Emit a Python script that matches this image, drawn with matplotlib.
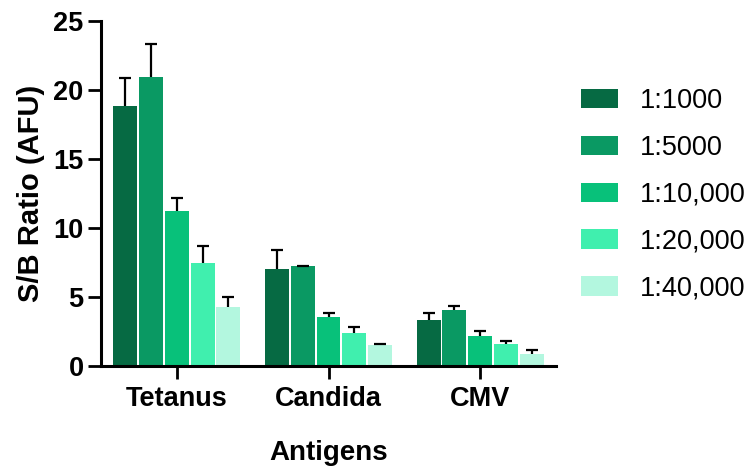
import numpy as np
import matplotlib.pyplot as plt

plt.rcParams['font.family'] = ['Liberation Sans', 'DejaVu Sans']

# ---------- data ----------
antigens = ['Tetanus', 'Candida', 'CMV']
dilutions = ['1:1000', '1:5000', '1:10,000', '1:20,000', '1:40,000']
ratio_1000 = [18.85, 7.02, 3.33]
ratio_5000 = [20.95, 7.22, 4.06]
ratio_10000 = [11.2, 3.58, 2.17]
ratio_20000 = [7.45, 2.41, 1.59]
ratio_40000 = [4.26, 1.54, 0.87]
sd_1000 = [2.05, 1.38, 0.53]
sd_5000 = [2.38, 0.04, 0.27]
sd_10000 = [0.95, 0.29, 0.37]
sd_20000 = [1.25, 0.39, 0.2]
sd_40000 = [0.76, 0.09, 0.31]

colors = ['#066a43', '#0a9963', '#08c17a', '#40efae', '#b3f7df']
# ---------------------------

means = [ratio_1000, ratio_5000, ratio_10000, ratio_20000, ratio_40000]
sds = [sd_1000, sd_5000, sd_10000, sd_20000, sd_40000]

fig = plt.figure(figsize=(7.51, 4.72), dpi=100)
ax = fig.add_axes([101 / 751, 106 / 472, 455 / 751, 345 / 472])

x = np.arange(len(antigens))
step = 0.17
width = 0.158
for i, (m, s, c, lab) in enumerate(zip(means, sds, colors, dilutions)):
    pos = x + (i - 2) * step
    ax.bar(pos, m, width=width, color=c, label=lab, zorder=2)
    # upward-only error bars: hide the lower cap
    eb = ax.errorbar(pos, m, yerr=[np.zeros(len(s)), s], fmt='none',
                     ecolor='black', elinewidth=1.6, capsize=4,
                     capthick=1.6, zorder=3)
    eb[1][0].set_visible(False)

ax.set_xlim(-0.5, 2.5)
ax.set_ylim(0, 25)
ax.set_yticks([0, 5, 10, 15, 20, 25])
ax.set_xticks(x)
ax.set_xticklabels(antigens)

for side in ['top', 'right']:
    ax.spines[side].set_visible(False)
for side in ['left', 'bottom']:
    ax.spines[side].set_linewidth(2.2)
ax.tick_params(axis='both', width=2, length=9.5, labelsize=19.5)
ax.tick_params(axis='y', pad=3)
ax.tick_params(axis='x', pad=5)
for t in ax.get_xticklabels() + ax.get_yticklabels():
    t.set_fontweight('bold')

ax.set_ylabel('S/B Ratio (AFU)', fontsize=21, fontweight='bold', labelpad=6)
ax.set_xlabel('Antigens', fontsize=20, fontweight='bold', labelpad=20)

fig.legend(loc='upper left', bbox_to_anchor=(581 / 751, 1 - 88 / 472),
           frameon=False, fontsize=19.5, handlelength=1.38, handleheight=0.72,
           labelspacing=0.77, handletextpad=0.78, borderpad=0,
           borderaxespad=0)

fig.savefig('out.png', dpi=100)
